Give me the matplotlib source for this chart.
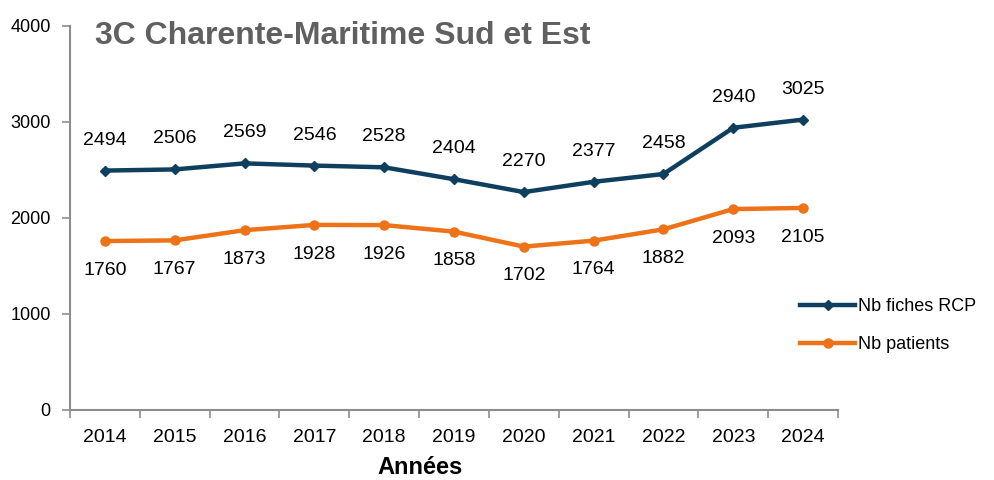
import matplotlib.pyplot as plt
import numpy as np

plt.rcParams['font.family'] = ['Liberation Sans', 'DejaVu Sans']

# données
annees = ['2014', '2015', '2016', '2017', '2018', '2019', '2020', '2021', '2022', '2023', '2024']
fiches_rcp = [2494, 2506, 2569, 2546, 2528, 2404, 2270, 2377, 2458, 2940, 3025]
patients = [1760, 1767, 1873, 1928, 1926, 1858, 1702, 1764, 1882, 2093, 2105]

bleu = '#0E3F5E'
orange = '#EE7218'
gris = '#8C8C8C'

fig = plt.figure(figsize=(9.94, 4.8), dpi=100)
ax = fig.add_axes([70 / 994, 1 - 410 / 480, 768 / 994, 384 / 480])

x = np.arange(len(annees))
ax.plot(x, fiches_rcp, color=bleu, lw=3.2, marker='D', ms=5, label='Nb fiches RCP')
ax.plot(x, patients, color=orange, lw=3.2, marker='o', ms=6.5, label='Nb patients')

# étiquettes de valeurs
for xi, v in zip(x, fiches_rcp):
    ax.annotate(str(v), (xi, v), xytext=(0, 22), textcoords='offset points',
                ha='center', va='center', fontsize=14)
for xi, v in zip(x, patients):
    ax.annotate(str(v), (xi, v), xytext=(0, -21), textcoords='offset points',
                ha='center', va='center', fontsize=14)

ax.set_xlim(-0.5, len(annees) - 0.5)
ax.set_ylim(0, 4000)
ax.set_yticks([0, 1000, 2000, 3000, 4000])
ax.set_xticks(x)
ax.set_xticklabels(annees, fontsize=14)
ax.set_xticks(np.arange(-0.5, len(annees)), minor=True)
ax.tick_params(axis='x', which='major', length=0, pad=14)
ax.tick_params(axis='x', which='minor', length=6, color=gris, width=1.2)
ax.tick_params(axis='y', labelsize=13, length=6, color=gris, width=1.2, pad=8)

for s in ['top', 'right']:
    ax.spines[s].set_visible(False)
for s in ['left', 'bottom']:
    ax.spines[s].set_color(gris)
    ax.spines[s].set_linewidth(1.5)

fig.text(95 / 994, 1 - 36 / 480, '3C Charente-Maritime Sud et Est', fontsize=23,
         fontweight='bold', color='#606060', va='center', ha='left')
fig.text(420 / 994, 1 - 468 / 480, 'Années', fontsize=17, fontweight='bold',
         ha='center', va='center')

ax.legend(loc='center left', bbox_to_anchor=(0.93, 0.22), frameon=False,
          fontsize=13, handlelength=3.0, handletextpad=0.2, labelspacing=1.15)

fig.savefig('out.png', dpi=100)
